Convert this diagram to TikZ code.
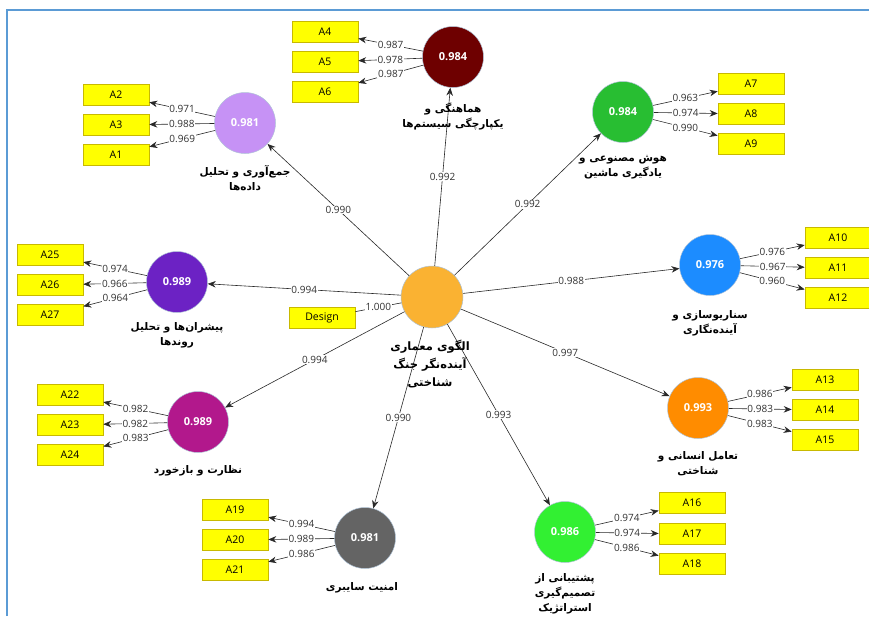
\documentclass[tikz,border=0pt]{standalone}
\usepackage{fontspec}
\setmainfont{Open Sans}
\newfontfamily\arabicfont[Script=Arabic]{DejaVu Sans}
\TeXXeTstate=1
\usetikzlibrary{arrows.meta}
\definecolor{frameblue}{RGB}{91,155,213}
\definecolor{cmaroon}{RGB}{110,0,0}
\definecolor{clav}{RGB}{198,146,245}
\definecolor{cgreen}{RGB}{40,190,50}
\definecolor{cpurple}{RGB}{108,34,196}
\definecolor{cblue}{RGB}{28,140,255}
\definecolor{cmag}{RGB}{178,24,140}
\definecolor{corange}{RGB}{255,140,0}
\definecolor{cgray}{RGB}{100,100,100}
\definecolor{cbgreen}{RGB}{50,240,50}
\definecolor{ccenter}{RGB}{250,178,50}
\definecolor{boxyellow}{RGB}{255,255,0}
\definecolor{boxborder}{RGB}{200,185,0}
\definecolor{ringcol}{RGB}{175,195,215}
\definecolor{linecol}{RGB}{40,40,40}
\definecolor{numcol}{RGB}{50,50,50}
\tikzset{
  lv/.style={circle, minimum size=61pt, inner sep=0pt, draw=ringcol, line width=0.5pt,
    text=white, font=\fontsize{11}{13}\selectfont\bfseries},
  ind/.style={rectangle, draw=boxborder, fill=boxyellow, line width=0.6pt,
    minimum width=66pt, minimum height=21pt, inner sep=0pt,
    font=\fontsize{10.5}{12}\selectfont},
  lnk/.style={draw=linecol, line width=0.6pt, -{Stealth[length=8pt,width=6.5pt]}},
  ld/.style={midway, fill=white, inner sep=0.6pt, text=numcol,
    font=\fontsize{10}{11}\selectfont},
  lbl/.style={anchor=north, inner sep=0pt, align=center,
    font=\arabicfont\bfseries\fontsize{10.5}{15}\selectfont},
}
\begin{document}
\begin{tikzpicture}[x=1pt,y=-1pt]
\useasboundingbox (0,0) rectangle (869,616);
\draw[frameblue, line width=1.5pt] (7,616) -- (7,10) -- (869,10);

% central construct
\node[lv, fill=ccenter, minimum size=62pt] (C) at (432,297) {};
\node[ind] (D) at (322,318) {Design};

% constructs
\node[lv, fill=cmaroon] (M1) at (453,57) {0.984};
\node[lv, fill=clav] (M2) at (245,123) {0.981};
\node[lv, fill=cgreen] (M3) at (623,112) {0.984};
\node[lv, fill=cpurple] (M4) at (177,282) {0.989};
\node[lv, fill=cblue] (M5) at (710,265) {0.976};
\node[lv, fill=cmag] (M6) at (198,422) {0.989};
\node[lv, fill=corange] (M7) at (698,408) {0.993};
\node[lv, fill=cgray] (M8) at (365,538) {0.981};
\node[lv, fill=cbgreen] (M9) at (565,532) {0.986};

% indicators
\node[ind] (A4) at (325,32) {A4};
\node[ind] (A5) at (325,62) {A5};
\node[ind] (A6) at (325,92) {A6};
\node[ind] (A2) at (116,95) {A2};
\node[ind] (A3) at (116,125) {A3};
\node[ind] (A1) at (116,155) {A1};
\node[ind] (A7) at (751,84) {A7};
\node[ind] (A8) at (751,114) {A8};
\node[ind] (A9) at (751,144) {A9};
\node[ind] (A25) at (50,255) {A25};
\node[ind] (A26) at (50,285) {A26};
\node[ind] (A27) at (50,315) {A27};
\node[ind] (A10) at (838,238) {A10};
\node[ind] (A11) at (838,268) {A11};
\node[ind] (A12) at (838,298) {A12};
\node[ind] (A22) at (70,395) {A22};
\node[ind] (A23) at (70,425) {A23};
\node[ind] (A24) at (70,455) {A24};
\node[ind] (A13) at (825,380) {A13};
\node[ind] (A14) at (825,410) {A14};
\node[ind] (A15) at (825,440) {A15};
\node[ind] (A19) at (235,510) {A19};
\node[ind] (A20) at (235,540) {A20};
\node[ind] (A21) at (235,570) {A21};
\node[ind] (A16) at (692,503) {A16};
\node[ind] (A17) at (692,534) {A17};
\node[ind] (A18) at (692,564) {A18};

% design link
\draw[draw=linecol, line width=0.6pt] (D) -- (C) node[ld] {1.000};

% structural paths
\draw[lnk] (C) -- (M1) node[ld] {0.992};
\draw[lnk] (C) -- (M2) node[ld] {0.990};
\draw[lnk] (C) -- (M3) node[ld] {0.992};
\draw[lnk] (C) -- (M4) node[ld] {0.994};
\draw[lnk] (C) -- (M5) node[ld] {0.988};
\draw[lnk] (C) -- (M6) node[ld] {0.994};
\draw[lnk] (C) -- (M7) node[ld] {0.997};
\draw[lnk] (C) -- (M8) node[ld] {0.990};
\draw[lnk] (C) -- (M9) node[ld] {0.993};

% loadings
\draw[lnk] (M1) -- (A4) node[ld] {0.987};
\draw[lnk] (M1) -- (A5) node[ld] {0.978};
\draw[lnk] (M1) -- (A6) node[ld] {0.987};
\draw[lnk] (M2) -- (A2) node[ld] {0.971};
\draw[lnk] (M2) -- (A3) node[ld] {0.988};
\draw[lnk] (M2) -- (A1) node[ld] {0.969};
\draw[lnk] (M3) -- (A7) node[ld] {0.963};
\draw[lnk] (M3) -- (A8) node[ld] {0.974};
\draw[lnk] (M3) -- (A9) node[ld] {0.990};
\draw[lnk] (M4) -- (A25) node[ld] {0.974};
\draw[lnk] (M4) -- (A26) node[ld] {0.966};
\draw[lnk] (M4) -- (A27) node[ld] {0.964};
\draw[lnk] (M5) -- (A10) node[ld] {0.976};
\draw[lnk] (M5) -- (A11) node[ld] {0.967};
\draw[lnk] (M5) -- (A12) node[ld] {0.960};
\draw[lnk] (M6) -- (A22) node[ld] {0.982};
\draw[lnk] (M6) -- (A23) node[ld] {0.982};
\draw[lnk] (M6) -- (A24) node[ld] {0.983};
\draw[lnk] (M7) -- (A13) node[ld] {0.986};
\draw[lnk] (M7) -- (A14) node[ld] {0.983};
\draw[lnk] (M7) -- (A15) node[ld] {0.983};
\draw[lnk] (M8) -- (A19) node[ld] {0.994};
\draw[lnk] (M8) -- (A20) node[ld] {0.989};
\draw[lnk] (M8) -- (A21) node[ld] {0.986};
\draw[lnk] (M9) -- (A16) node[ld] {0.974};
\draw[lnk] (M9) -- (A17) node[ld] {0.974};
\draw[lnk] (M9) -- (A18) node[ld] {0.986};

% construct labels
\node[lbl] (L1) at (453,103) {\beginR هماهنگی و\endR\\\beginR یکپارچگی سیستم‌ها\endR};
\node[lbl] (L2) at (245,165) {\beginR جمع‌آوری و تحلیل\endR\\\beginR داده‌ها\endR};
\node[lbl] (L3) at (623,155) {\beginR هوش مصنوعی و\endR\\\beginR یادگیری ماشین\endR};
\node[lbl] (L4) at (177,322) {\beginR پیشران‌ها و تحلیل\endR\\\beginR روندها\endR};
\node[lbl] (L5) at (710,310) {\beginR سناریوسازی و\endR\\\beginR آینده‌نگاری\endR};
\node[lbl] (L6) at (198,465) {\beginR نظارت و بازخورد\endR};
\node[lbl] (L7) at (698,451) {\beginR تعامل انسانی و\endR\\\beginR شناختی\endR};
\node[lbl] (L8) at (362,582) {\beginR امنیت سایبری\endR};
\node[lbl] (L9) at (565,573) {\beginR پشتیبانی از\endR\\\beginR تصمیم‌گیری\endR\\\beginR استراتژیک\endR};
\node[lbl, font=\arabicfont\bfseries\fontsize{11.5}{18}\selectfont] (LC) at (430,340) {\beginR الگوی معماری\endR\\\beginR آینده‌نگر جنگ\endR\\\beginR شناختی\endR};
\end{tikzpicture}
\end{document}
